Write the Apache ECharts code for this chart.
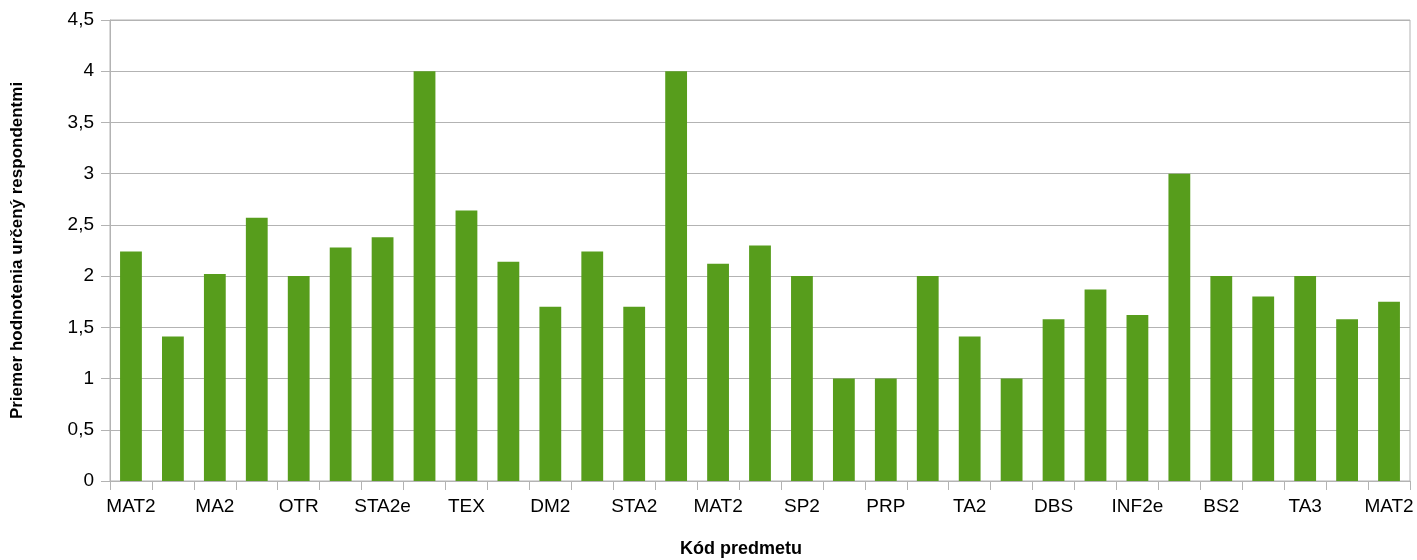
<!DOCTYPE html>
<html>
<head>
<meta charset="utf-8">
<script src="https://cdn.jsdelivr.net/npm/echarts@6/dist/echarts.min.js"></script>
<style>
  html, body { margin: 0; padding: 0; background: #fff; }
  #main { width: 1417px; height: 560px; }
</style>
</head>
<body>
<div id="main"></div>
<script>
// only every other category code is printed on the axis; the hidden ones are left blank
var categories = ['MAT2', '', 'MA2', '', 'OTR', '', 'STA2e', '', 'TEX', '', 'DM2', '', 'STA2', '', 'MAT2', '',
                  'SP2', '', 'PRP', '', 'TA2', '', 'DBS', '', 'INF2e', '', 'BS2', '', 'TA3', '', 'MAT2'];
var averages = [2.24, 1.41, 2.02, 2.57, 2.0, 2.28, 2.38, 4.0, 2.64, 2.14, 1.7, 2.24, 1.7, 4.0, 2.12, 2.3,
                2.0, 1.0, 1.0, 2.0, 1.41, 1.0, 1.58, 1.87, 1.62, 3.0, 2.0, 1.8, 2.0, 1.58, 1.75];
var yTicks = [0, 0.5, 1, 1.5, 2, 2.5, 3, 3.5, 4, 4.5];

var dom = document.getElementById("main");
var myChart = echarts.init(dom);
var option = {
    animation: false,
    textStyle: { fontFamily: 'Liberation Sans' },
    grid: {
        left: 110,
        right: 7,
        top: 20,
        bottom: 79,
        outerBoundsMode: 'none',
        show: true,
        borderColor: '#b3b3b3',
        borderWidth: 1
    },
    xAxis: {
        type: 'category',
        data: categories,
        name: 'Kód predmetu',
        nameLocation: 'middle',
        nameGap: 59,
        nameTextStyle: { fontSize: 18, fontWeight: 'bold', color: '#000', padding: [0, 38, 0, 0] },
        axisLine: { lineStyle: { color: '#b3b3b3', width: 1 } },
        axisTick: { show: true, interval: 0, length: 9, lineStyle: { color: '#b3b3b3' } },
        axisLabel: { interval: 1, color: '#000', fontSize: 19, margin: 16 }
    },
    yAxis: {
        type: 'value',
        min: yTicks[0],
        max: yTicks[yTicks.length - 1],
        interval: 0.5,
        name: 'Priemer hodnotenia určený respondentmi',
        nameLocation: 'middle',
        nameGap: 84,
        nameTextStyle: { fontSize: 17, fontWeight: 'bold', color: '#000' },
        axisLine: { show: true, lineStyle: { color: '#b3b3b3', width: 1 } },
        axisTick: { show: true, length: 9, lineStyle: { color: '#b3b3b3' } },
        splitLine: { show: true, lineStyle: { color: '#b3b3b3', width: 1 } },
        axisLabel: {
            color: '#000',
            fontSize: 19,
            margin: 16,
            formatter: function (v) { return String(v).replace('.', ','); }
        }
    },
    series: [
        {
            type: 'bar',
            data: averages,
            barCategoryGap: '48%',
            itemStyle: { color: '#579d1c' }
        }
    ]
};
myChart.setOption(option, true);
</script>
</body>
</html>
